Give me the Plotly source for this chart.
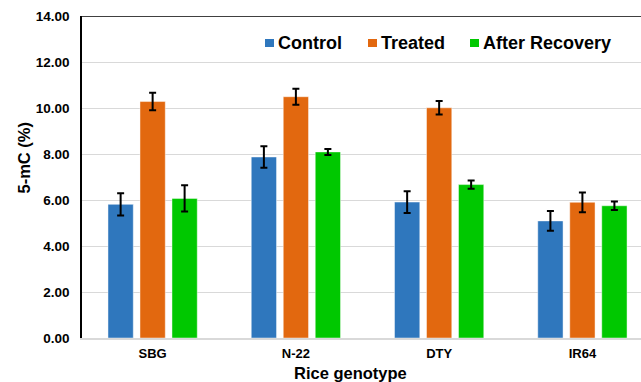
import plotly.graph_objects as go

genotypes = ["SBG", "N-22", "DTY", "IR64"]
control = [5.81, 7.87, 5.91, 5.09]
control_err = [0.48, 0.47, 0.47, 0.43]
treated = [10.28, 10.49, 10.01, 5.90]
treated_err = [0.38, 0.35, 0.29, 0.43]
recovery = [6.07, 8.09, 6.67, 5.75]
recovery_err = [0.57, 0.13, 0.18, 0.18]

series = [
    ("Control", control, control_err, "#2F77BD"),
    ("Treated", treated, treated_err, "#E2680F"),
    ("After Recovery", recovery, recovery_err, "#00C800"),
]

FONT = "Arial, Liberation Sans, sans-serif"
W, H = 641, 382
ML, MR, MT, MB = 82, 0, 16, 44
PW = W - ML - MR
PH = H - MT - MB


def px_x(p):
    return (p - ML) / PW


def px_y(p):
    return (H - MB - p) / PH


fig = go.Figure()
for name, vals, errs, col in series:
    fig.add_trace(go.Bar(
        name=name, x=genotypes, y=vals, showlegend=False,
        marker=dict(color=col, line=dict(color="rgba(255,255,255,0.45)", width=1)),
        error_y=dict(type="data", array=errs, visible=True, color="black",
                     thickness=2, width=3.5),
    ))

# custom legend (square + label), positions in pixels
legend_sq_x = [265, 368, 470]
shapes = [dict(type="line", xref="paper", yref="y", x0=0, x1=1, y0=14, y1=14,
               line=dict(color="black", width=1.5))]
annotations = []
for (name, _, _, col), sx in zip(series, legend_sq_x):
    shapes.append(dict(type="rect", xref="paper", yref="paper",
                       x0=px_x(sx), x1=px_x(sx + 9), y0=px_y(47), y1=px_y(39),
                       fillcolor=col, line=dict(width=0)))
    annotations.append(dict(text=name, xref="paper", yref="paper",
                            x=px_x(sx + 11), y=px_y(43), xanchor="left", yanchor="middle",
                            showarrow=False,
                            font=dict(size=18, family=FONT, weight="bold", color="black")))

annotations += [
    dict(text="5-mC (%)", xref="paper", yref="paper", x=px_x(23.5), y=px_y(158),
         textangle=-90, showarrow=False, xanchor="center", yanchor="middle",
         font=dict(size=16.5, family=FONT, weight="bold", color="black")),
    dict(text="Rice genotype", xref="paper", yref="paper", x=px_x(350), y=px_y(373),
         showarrow=False, xanchor="center", yanchor="middle",
         font=dict(size=16.5, family=FONT, weight="bold", color="black")),
]

fig.update_layout(
    width=W, height=H,
    margin=dict(l=ML, r=MR, t=MT, b=MB, autoexpand=False),
    paper_bgcolor="white", plot_bgcolor="white",
    barmode="group", bargap=0.33, bargroupgap=0.21,
    font=dict(family=FONT, color="black"),
    showlegend=False,
    xaxis=dict(range=[-0.493, 3.409], showline=True, linecolor="#D9D9D9", linewidth=1.5,
               showgrid=False, zeroline=False, ticks="outside", ticklen=3,
               tickcolor="rgba(0,0,0,0)", automargin=False,
               tickfont=dict(size=13, family=FONT, weight="bold", color="black")),
    yaxis=dict(range=[0, 14], dtick=2, tickformat=".2f", showline=True, linecolor="black",
               linewidth=1.5, showgrid=True, gridcolor="#D9D9D9", gridwidth=1.2,
               zeroline=False, ticks="outside", ticklen=8, tickcolor="rgba(0,0,0,0)",
               automargin=False,
               tickfont=dict(size=13.5, family=FONT, weight="bold", color="black")),
    shapes=shapes,
    annotations=annotations,
)

fig.write_html("out.html", config={"displayModeBar": False},
               post_script="document.body.style.margin='0';document.body.style.overflow='hidden';")
